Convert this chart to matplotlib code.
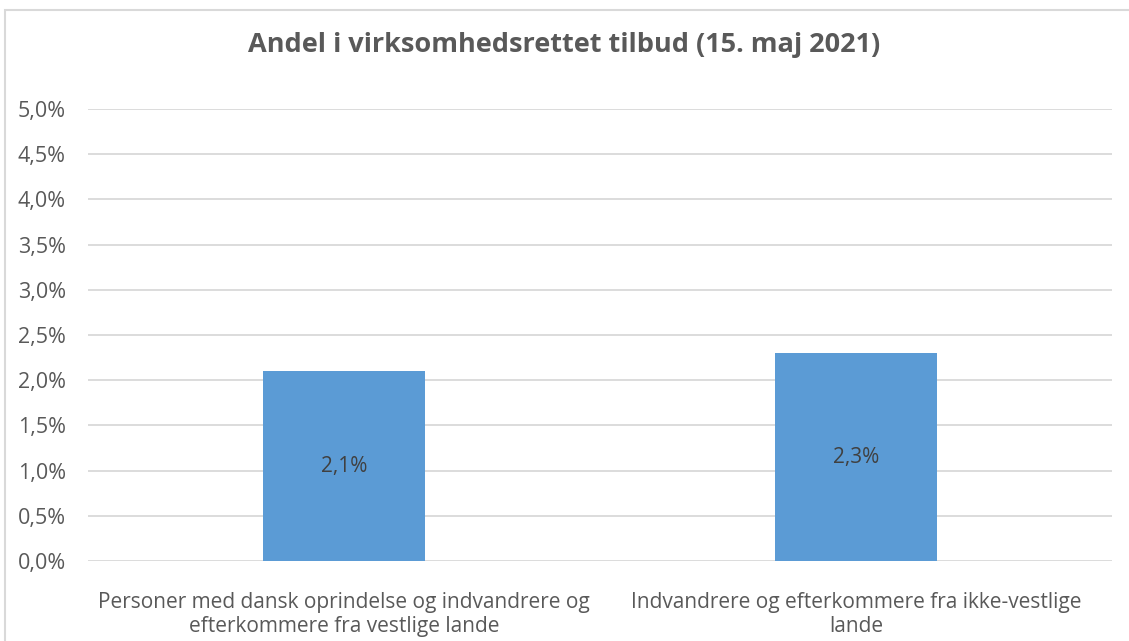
import matplotlib
matplotlib.use('Agg')
import matplotlib.pyplot as plt
from matplotlib.patches import Rectangle

plt.rcParams['font.family'] = ['Open Sans', 'DejaVu Sans']

categories = ['Personer med dansk oprindelse og indvandrere og\nefterkommere fra vestlige lande',
              'Indvandrere og efterkommere fra ikke-vestlige\nlande']
values = [2.1, 2.3]
value_labels = ['2,1%', '2,3%']
yticks = [0.0, 0.5, 1.0, 1.5, 2.0, 2.5, 3.0, 3.5, 4.0, 4.5, 5.0]
ytick_labels = ['0,0%', '0,5%', '1,0%', '1,5%', '2,0%', '2,5%', '3,0%', '3,5%', '4,0%', '4,5%', '5,0%']
title = 'Andel i virksomhedsrettet tilbud (15. maj 2021)'

W, H = 1129, 641
fig = plt.figure(figsize=(W / 100, H / 100), dpi=100)
# chart border (cut off at right and bottom in the reference)
fig.patches.append(Rectangle((5 / W, -0.1), 1.2, 1 - 10 / H + 0.1, transform=fig.transFigure,
                             fill=False, edgecolor='#D9D9D9', linewidth=1.5))

ax = fig.add_axes([88 / W, 1 - 561 / H, (1112 - 88) / W, (561 - 109) / H])
x = range(len(categories))
ax.bar(x, values, width=0.315, color='#5B9BD5', zorder=3)
for xi, v, lab in zip(x, values, value_labels):
    ax.text(xi, v / 2, lab, ha='center', va='center', fontsize=15, color='#404040', zorder=4)

ax.set_xlim(-0.5, 1.5)
ax.set_ylim(0, 5.0)
ax.set_yticks(yticks)
ax.set_yticklabels(ytick_labels)
ax.set_xticks(list(x))
ax.set_xticklabels(categories)
ax.grid(axis='y', color='#D9D9D9', linewidth=1.3, zorder=0)
for s in ax.spines.values():
    s.set_visible(False)
ax.tick_params(axis='both', length=0, labelsize=15, colors='#595959')
ax.tick_params(axis='y', labelsize=15.5, pad=16)
ax.tick_params(axis='x', pad=22)
for t in ax.get_xticklabels():
    t.set_linespacing(1.22)

fig.text(564 / W, 1 - 45 / H, title, ha='center', va='center', fontsize=19.5,
         fontweight='bold', color='#595959')

fig.savefig('out.png', dpi=100)
